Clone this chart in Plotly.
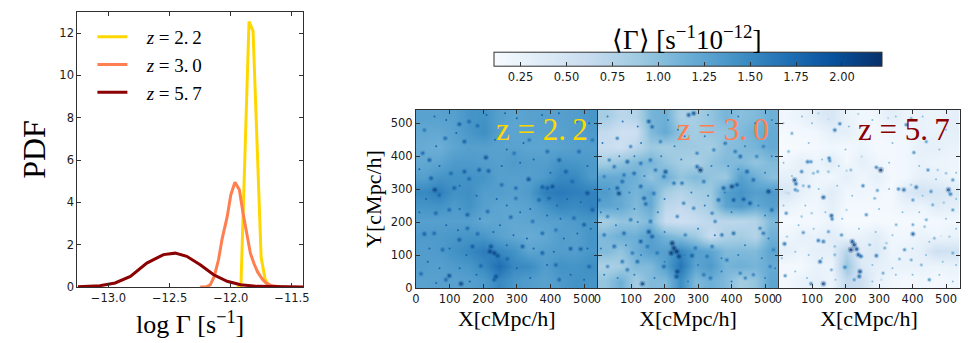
import plotly.graph_objects as go

W, H = 969, 343

# PDF curves
logg_22 = [-11.95, -11.917, -11.884, -11.851, -11.818, -11.785, -11.752, -11.719, -11.686, -11.65]
pdf_22 = [0, 0.05, 6.3, 12.55, 12.1, 6.8, 1.4, 0.35, 0.05, 0]
logg_30 = [-12.25, -12.2, -12.168, -12.135, -12.10, -12.07, -12.03, -12.0, -11.966, -11.93, -11.90, -11.87, -11.84, -11.81, -11.78, -11.74, -11.71, -11.67, -11.6]
pdf_30 = [0, 0.01, 0.1, 0.5, 1.3, 2.3, 3.3, 4.35, 4.95, 4.6, 3.5, 2.5, 1.6, 1.1, 0.7, 0.35, 0.18, 0.07, 0]
logg_57 = [-13.25, -13.07, -12.945, -12.82, -12.686, -12.55, -12.454, -12.36, -12.25, -12.14, -12.03, -11.92, -11.79, -11.6, -11.41]
pdf_57 = [0.01, 0.06, 0.19, 0.5, 1.13, 1.53, 1.6, 1.45, 1.05, 0.58, 0.27, 0.11, 0.03, 0, 0]

labels = ['<i>z</i> = 2.\u20092', '<i>z</i> = 3.\u20090', '<i>z</i> = 5.\u20097']
panel_labels = ['z = 2.\u20092', 'z = 3.\u20090', 'z = 5.\u20097']
colors = ['#FFD700', '#FF7F50', '#8B0000']

# coarse background of each map, top row first
cell_x = [22.5, 67.5, 112.5, 157.5, 202.5, 247.5, 292.5, 337.5, 382.5, 427.5, 472.5, 517.5]
cell_y = [517.5, 472.5, 427.5, 382.5, 337.5, 292.5, 247.5, 202.5, 157.5, 112.5, 67.5, 22.5]

field_22 = [
    [1.28, 1.28, 1.30, 1.40, 1.42, 1.30, 1.25, 1.28, 1.30, 1.30, 1.32, 1.38],
    [1.22, 1.22, 1.28, 1.38, 1.45, 1.30, 1.25, 1.28, 1.28, 1.28, 1.32, 1.35],
    [1.18, 1.15, 1.25, 1.30, 1.30, 1.28, 1.28, 1.25, 1.25, 1.28, 1.30, 1.32],
    [1.22, 1.25, 1.35, 1.35, 1.32, 1.30, 1.35, 1.32, 1.32, 1.40, 1.38, 1.35],
    [1.30, 1.40, 1.42, 1.42, 1.40, 1.30, 1.30, 1.30, 1.35, 1.50, 1.50, 1.35],
    [1.50, 1.58, 1.42, 1.45, 1.32, 1.32, 1.28, 1.35, 1.58, 1.62, 1.58, 1.55],
    [1.40, 1.42, 1.35, 1.42, 1.30, 1.25, 1.25, 1.28, 1.40, 1.52, 1.48, 1.55],
    [1.30, 1.30, 1.30, 1.30, 1.22, 1.25, 1.22, 1.25, 1.28, 1.30, 1.35, 1.38],
    [1.35, 1.35, 1.38, 1.40, 1.38, 1.28, 1.22, 1.18, 1.22, 1.32, 1.30, 1.40],
    [1.32, 1.35, 1.42, 1.50, 1.60, 1.50, 1.42, 1.25, 1.30, 1.32, 1.32, 1.38],
    [1.32, 1.30, 1.35, 1.38, 1.50, 1.72, 1.50, 1.48, 1.32, 1.42, 1.40, 1.45],
    [1.28, 1.30, 1.28, 1.30, 1.35, 1.50, 1.38, 1.32, 1.28, 1.35, 1.42, 1.40],
]
field_30 = [
    [0.85, 0.70, 0.75, 1.10, 1.15, 0.80, 0.85, 0.95, 1.10, 1.00, 1.05, 1.15],
    [0.65, 0.55, 0.55, 1.05, 1.20, 0.95, 0.85, 0.95, 0.95, 1.05, 1.15, 1.20],
    [0.60, 0.55, 0.70, 0.90, 0.85, 0.90, 0.90, 0.85, 1.00, 1.05, 1.10, 1.20],
    [0.85, 0.95, 1.05, 1.10, 0.95, 0.85, 0.80, 0.95, 1.05, 1.05, 0.95, 1.05],
    [1.20, 1.20, 1.15, 0.95, 1.15, 0.95, 1.05, 0.95, 0.90, 1.30, 1.15, 1.00],
    [1.35, 1.20, 1.10, 1.20, 0.85, 0.75, 0.85, 0.90, 1.30, 1.40, 1.30, 1.35],
    [1.25, 1.20, 1.05, 1.20, 0.70, 0.65, 0.75, 0.85, 1.25, 1.35, 1.20, 1.30],
    [0.85, 0.95, 0.95, 1.05, 0.60, 0.55, 0.60, 0.70, 0.70, 0.70, 0.75, 1.05],
    [1.05, 1.15, 1.15, 1.30, 1.10, 1.00, 0.90, 0.60, 0.80, 0.85, 0.75, 1.15],
    [1.05, 0.95, 1.15, 1.30, 1.30, 1.50, 1.30, 1.25, 1.05, 1.05, 1.05, 1.25],
    [0.80, 0.85, 1.05, 1.05, 1.30, 1.65, 1.25, 1.35, 1.10, 1.15, 1.10, 1.20],
    [0.95, 1.15, 0.85, 1.05, 1.05, 1.45, 1.05, 1.15, 1.05, 0.85, 0.95, 1.25],
]
field_57 = [
    [0.18, 0.25, 0.35, 0.45, 0.25, 0.18, 0.20, 0.32, 0.22, 0.25, 0.22, 0.30],
    [0.15, 0.15, 0.18, 0.30, 0.30, 0.18, 0.15, 0.20, 0.18, 0.25, 0.25, 0.30],
    [0.12, 0.13, 0.15, 0.18, 0.15, 0.22, 0.15, 0.15, 0.18, 0.28, 0.30, 0.25],
    [0.18, 0.30, 0.22, 0.35, 0.15, 0.30, 0.20, 0.16, 0.18, 0.25, 0.22, 0.20],
    [0.30, 0.30, 0.20, 0.18, 0.30, 0.18, 0.30, 0.15, 0.18, 0.30, 0.28, 0.20],
    [0.45, 0.28, 0.20, 0.35, 0.18, 0.20, 0.18, 0.15, 0.40, 0.50, 0.45, 0.40],
    [0.25, 0.18, 0.18, 0.30, 0.15, 0.15, 0.15, 0.16, 0.25, 0.22, 0.35, 0.30],
    [0.12, 0.15, 0.15, 0.22, 0.12, 0.12, 0.14, 0.13, 0.13, 0.14, 0.15, 0.18],
    [0.18, 0.28, 0.25, 0.35, 0.22, 0.25, 0.35, 0.18, 0.18, 0.25, 0.20, 0.25],
    [0.30, 0.22, 0.30, 0.30, 0.75, 0.35, 0.40, 0.20, 0.25, 0.30, 0.55, 0.50],
    [0.15, 0.15, 0.25, 0.22, 0.95, 0.40, 0.30, 0.25, 0.25, 0.25, 0.22, 0.25],
    [0.15, 0.25, 0.30, 0.22, 0.65, 0.55, 0.25, 0.18, 0.15, 0.18, 0.15, 0.18],
]

# bright knots in each map, in cMpc/h
knot_x_22 = [129, 183, 158, 40, 20, 144, 87, 208, 144, 216, 188, 158, 335, 255, 297, 56, 114, 69, 45, 104, 376, 406, 391, 510, 426, 446, 465, 59, 99, 153, 282, 525, 470, 500, 25, 54, 129, 153, 183, 223, 233, 220, 243, 317, 376, 416, 460, 490, 272, 15, 99, 134, 238, 233, 89, 193, 376, 515, 426, 337, 391, 292, 25, 485, 525, 396, 366, 297, 213, 347, 416, 79, 168]
knot_y_22 = [497, 492, 505, 388, 409, 444, 454, 396, 353, 355, 358, 331, 330, 313, 303, 298, 303, 282, 333, 348, 306, 308, 303, 288, 388, 353, 323, 227, 237, 222, 215, 237, 212, 192, 164, 166, 146, 181, 164, 126, 106, 111, 98, 126, 106, 70, 119, 118, 88, 43, 37, 13, 35, 25, 25, 67, 166, 65, 25, 449, 414, 409, 479, 414, 449, 272, 267, 272, 232, 202, 176, 116, 126]
knot_v_22 = [1.9, 1.8, 1.8, 1.9, 1.8, 1.9, 1.8, 2.0, 1.9, 1.9, 1.9, 1.8, 2.0, 1.8, 1.8, 2.1, 1.9, 1.8, 1.9, 1.8, 1.9, 2.0, 1.9, 2.0, 1.9, 1.9, 1.8, 1.8, 1.8, 1.9, 1.8, 1.9, 1.8, 1.9, 1.9, 1.8, 1.9, 1.8, 1.8, 2.0, 2.1, 2.1, 2.0, 1.9, 1.9, 1.8, 1.9, 1.9, 1.8, 1.8, 2.0, 2.1, 2.0, 1.9, 1.8, 1.8, 1.8, 1.8, 1.8, 1.7, 1.8, 1.7, 1.7, 1.8, 1.7, 1.8, 1.8, 1.7, 1.8, 1.7, 1.7, 1.8, 1.9]

knot_x_30 = [153, 163, 287, 272, 99, 59, 89, 129, 50, 203, 307, 297, 79, 109, 158, 64, 59, 74, 20, 129, 139, 168, 228, 252, 317, 401, 376, 416, 510, 446, 465, 426, 411, 406, 436, 361, 144, 99, 158, 79, 153, 163, 129, 20, 50, 223, 228, 220, 236, 243, 282, 327, 342, 386, 371, 406, 485, 495, 238, 236, 134, 89, 119, 198, 317, 337, 426, 515, 525, 455, 520, 342, 287, 257, 351, 5, 30, 441, 465, 347, 381, 495, 188, 297, 35, 173, 198, 238, 262, 292, 178, 104, 149, 74, 30, 475]
knot_y_30 = [505, 489, 530, 525, 429, 454, 383, 378, 368, 353, 358, 368, 343, 348, 388, 287, 303, 323, 338, 308, 272, 287, 318, 318, 323, 308, 303, 313, 293, 353, 328, 399, 414, 267, 269, 267, 255, 207, 202, 166, 171, 156, 141, 161, 126, 136, 121, 106, 111, 96, 98, 96, 126, 85, 161, 166, 181, 166, 50, 35, 13, 55, 80, 65, 40, 30, 45, 65, 116, 257, 237, 227, 242, 257, 202, 267, 217, 30, 40, 419, 439, 429, 444, 409, 388, 358, 338, 217, 161, 121, 106, 106, 126, 80, 65, 399]
knot_v_30 = [1.9, 1.8, 2.0, 1.9, 1.6, 1.6, 1.9, 1.7, 1.7, 2.0, 2.2, 1.8, 1.7, 1.8, 1.7, 2.1, 1.9, 1.8, 1.6, 1.8, 1.9, 1.7, 1.7, 1.7, 1.7, 2.1, 1.9, 1.9, 2.1, 1.9, 1.8, 1.8, 1.7, 1.9, 1.9, 1.8, 1.8, 1.7, 1.7, 1.8, 2.0, 1.9, 1.9, 1.7, 1.8, 2.2, 2.2, 2.2, 2.2, 2.1, 1.9, 1.7, 1.7, 1.7, 1.7, 1.8, 1.6, 1.7, 2.1, 2.0, 2.1, 1.7, 1.8, 1.8, 1.7, 1.7, 1.6, 1.6, 1.6, 1.9, 1.8, 1.6, 1.6, 1.6, 1.6, 1.7, 1.6, 1.6, 1.6, 1.6, 1.7, 1.6, 1.6, 1.6, 1.6, 1.7, 1.7, 1.6, 1.6, 1.7, 1.7, 1.7, 1.7, 1.7, 1.6, 1.6]

knot_x_57 = [87, 97, 151, 153, 48, 52, 30, 22, 91, 74, 134, 104, 203, 216, 292, 305, 248, 252, 295, 358, 374, 411, 396, 455, 507, 513, 446, 404, 441, 168, 183, 119, 149, 40, 30, 158, 160, 74, 149, 119, 134, 18, 25, 220, 226, 216, 233, 238, 246, 272, 317, 322, 401, 485, 376, 361, 292, 124, 198, 243, 241, 210, 226, 134, 97, 20, 158, 312, 307, 426, 450, 460, 441, 401, 262, 287, 493, 520, 351, 401, 436, 168, 188, 168, 50, 57, 23, 69, 117, 149, 238, 327, 396, 381, 500, 520, 475, 69, 99, 203, 465, 510, 396, 520]
knot_y_57 = [383, 383, 394, 386, 328, 316, 287, 290, 308, 310, 275, 348, 356, 358, 366, 358, 399, 310, 296, 300, 298, 306, 313, 293, 298, 285, 358, 411, 444, 479, 498, 530, 512, 469, 414, 219, 209, 168, 171, 144, 141, 134, 156, 141, 131, 116, 118, 101, 96, 131, 121, 136, 164, 158, 116, 88, 98, 80, 63, 50, 35, 45, 25, 13, 13, 37, 55, 45, 25, 70, 25, 252, 207, 267, 222, 272, 259, 237, 192, 192, 186, 126, 161, 101, 298, 295, 227, 353, 353, 353, 528, 515, 515, 495, 348, 328, 358, 217, 227, 237, 151, 156, 85, 106]
knot_v_57 = [1.7, 1.5, 1.6, 1.5, 2.0, 1.8, 0.8, 0.7, 1.4, 1.2, 1.9, 1.2, 0.9, 1.2, 1.6, 2.2, 0.8, 1.6, 1.4, 1.6, 1.8, 1.7, 1.0, 1.5, 2.0, 1.7, 1.5, 1.5, 1.4, 1.7, 1.6, 0.9, 0.7, 1.3, 1.2, 1.9, 1.6, 1.5, 1.4, 1.7, 1.7, 1.8, 1.0, 2.0, 2.1, 2.2, 2.0, 1.9, 1.8, 1.2, 1.3, 1.0, 1.9, 0.6, 1.5, 1.2, 1.7, 1.8, 1.6, 2.0, 1.8, 0.8, 1.4, 2.1, 1.6, 1.5, 1.3, 1.3, 0.8, 1.2, 1.5, 1.3, 1.3, 1.4, 1.5, 1.2, 1.0, 1.4, 1.2, 1.3, 1.1, 1.1, 1.5, 1.2, 1.5, 1.3, 1.5, 1.6, 1.3, 1.1, 0.9, 0.8, 1.2, 1.6, 1.1, 1.5, 1.0, 1.0, 1.0, 0.9, 1.2, 1.0, 1.3, 1.3]

# fainter specks, one level per map
faint_x_22 = [55, 90, 210, 265, 300, 375, 425, 480, 515, 60, 120, 235, 270, 320, 70, 10, 255, 310, 350, 400, 510, 130, 30, 180, 240, 270, 340, 420, 450, 490, 10, 130, 190, 250, 310, 390, 430, 520, 90, 125, 230, 290, 330, 440, 480, 40, 100, 150, 270, 350, 410, 510, 35, 70, 130, 180, 300, 340, 390, 460, 500, 160, 60]
faint_y_22 = [520, 510, 525, 530, 515, 525, 530, 505, 500, 430, 470, 450, 420, 440, 370, 360, 370, 380, 390, 350, 370, 310, 270, 280, 270, 250, 240, 250, 270, 260, 230, 240, 210, 190, 230, 220, 210, 180, 190, 175, 170, 160, 150, 150, 165, 120, 120, 100, 130, 120, 110, 120, 80, 60, 60, 40, 60, 30, 70, 40, 25, 20, 15]
faint_x_30 = [30, 75, 120, 210, 240, 330, 420, 470, 520, 130, 230, 260, 320, 440, 520, 15, 65, 110, 190, 250, 340, 390, 420, 500, 140, 35, 95, 200, 280, 330, 380, 480, 10, 60, 110, 180, 320, 400, 500, 55, 120, 200, 300, 350, 440, 510, 10, 85, 130, 200, 260, 300, 370, 420, 490, 20, 60, 110, 170, 270, 370, 400, 500, 530]
faint_y_30 = [520, 505, 490, 510, 480, 525, 520, 500, 510, 440, 430, 460, 460, 430, 400, 440, 400, 400, 400, 390, 370, 370, 360, 350, 340, 300, 290, 270, 290, 280, 290, 250, 230, 240, 240, 230, 250, 230, 220, 190, 200, 170, 180, 160, 130, 150, 120, 130, 100, 80, 100, 70, 90, 100, 90, 40, 30, 40, 30, 20, 50, 20, 30, 60]
faint_x_57 = [15, 70, 100, 210, 280, 350, 430, 500, 90, 200, 260, 340, 480, 15, 40, 130, 180, 330, 420, 470, 530, 120, 175, 220, 330, 430, 530, 15, 80, 140, 190, 300, 370, 420, 500, 60, 105, 240, 290, 340, 450, 530, 10, 50, 90, 130, 280, 340, 400, 440, 490, 530, 50, 85, 170, 280, 350, 480, 520, 400]
faint_y_57 = [500, 520, 500, 490, 510, 520, 520, 480, 440, 420, 450, 440, 420, 380, 340, 390, 370, 380, 370, 330, 350, 300, 310, 280, 300, 280, 270, 250, 250, 230, 210, 240, 230, 230, 210, 190, 180, 180, 170, 160, 140, 180, 90, 110, 100, 90, 70, 60, 120, 100, 80, 70, 50, 30, 25, 20, 40, 40, 20, 40]
faint_levels = [1.8, 1.6, 1.0]

fields = [field_22, field_30, field_57]
knots = [(knot_x_22, knot_y_22, knot_v_22), (knot_x_30, knot_y_30, knot_v_30), (knot_x_57, knot_y_57, knot_v_57)]
faints = [(faint_x_22, faint_y_22), (faint_x_30, faint_y_30), (faint_x_57, faint_y_57)]

map_ticks = [0, 100, 200, 300, 400, 500]
cbar_ticks = [0.25, 0.50, 0.75, 1.00, 1.25, 1.50, 1.75, 2.00]
pdf_ticks = [0, 2, 4, 6, 8, 10, 12]
logg_ticks = [-13.0, -12.5, -12.0, -11.5]

SERIF = 'Liberation Serif'
TICK = dict(family='DejaVu Sans', size=11.5, color='#1a1a1a')
AXIS = dict(showgrid=False, zeroline=False, showline=True, linecolor='#303030', linewidth=1, mirror='allticks', automargin=False,
            ticks='inside', ticklen=4, tickcolor='#303030', tickwidth=1, tickfont=TICK)


def xdom(a, b):
    return [a / W, b / W]


def ydom(top, bottom):
    return [1 - bottom / H, 1 - top / H]


fig = go.Figure()

# left panel
for x, y, name, c in zip([logg_22, logg_30, logg_57], [pdf_22, pdf_30, pdf_57], labels, colors):
    fig.add_trace(go.Scatter(x=x, y=y, mode='lines', name='\u00a0\u00a0\u00a0' + name, line=dict(color=c, width=3), xaxis='x', yaxis='y'))

# maps
for i in range(3):
    ax, ay = 'x%d' % (i + 2), 'y%d' % (i + 2)
    fig.add_trace(go.Heatmap(x=cell_x, y=cell_y, z=fields[i], zsmooth='best', coloraxis='coloraxis', xaxis=ax, yaxis=ay, hoverinfo='skip'))
    fx, fy = faints[i]
    fig.add_trace(go.Scatter(x=fx, y=fy, mode='markers', showlegend=False, hoverinfo='skip', xaxis=ax, yaxis=ay,
                             marker=dict(color=[faint_levels[i]] * len(fx), coloraxis='coloraxis', size=2, line=dict(width=0))))
    kx, ky, kv = knots[i]
    # soft halo, then the knot itself
    fig.add_trace(go.Scatter(x=kx, y=ky, mode='markers', showlegend=False, hoverinfo='skip', xaxis=ax, yaxis=ay,
                             marker=dict(color=kv, coloraxis='coloraxis', size=[1 + 2.4 * v for v in kv], opacity=0.28, line=dict(width=0))))
    fig.add_trace(go.Scatter(x=kx, y=ky, mode='markers', showlegend=False, hoverinfo='skip', xaxis=ax, yaxis=ay,
                             marker=dict(color=kv, coloraxis='coloraxis', size=[0.8 + 1.1 * v for v in kv], line=dict(width=0))))

fig.update_layout(
    width=W, height=H, autosize=False,
    margin=dict(l=0, r=0, t=0, b=0),
    paper_bgcolor='white', plot_bgcolor='white',
    font=dict(family=SERIF, color='black'),
    legend=dict(x=92.4 / W, y=1 - 18 / H, yanchor='top', bgcolor='rgba(0,0,0,0)', itemwidth=30,
                font=dict(family=SERIF, size=19, color='black'), itemclick=False),
    coloraxis=dict(
        colorscale='Blues', cmin=0.105, cmax=2.218,
        colorbar=dict(
            orientation='h', x=688 / W, xanchor='center', y=1 - 89 / H, yanchor='bottom',
            len=388, lenmode='pixels', thickness=14, thicknessmode='pixels', xpad=0, ypad=0,
            outlinecolor='#303030', outlinewidth=1,
            ticks='inside', ticklen=4, tickcolor='#303030', tickvals=cbar_ticks, tickformat='.2f', tickfont=TICK,
        ),
    ),
    xaxis=dict(AXIS, domain=xdom(77.3, 303), range=[-13.254, -11.41], tickvals=logg_ticks, tickformat='.1f',
               title=dict(text='log \u0393 [s<sup>\u22121</sup>]', font=dict(family=SERIF, size=26), standoff=11)),
    yaxis=dict(AXIS, domain=ydom(12, 287), range=[0, 13], tickvals=pdf_ticks,
               title=dict(text='PDF', font=dict(family=SERIF, size=32), standoff=4)),
)

# colourbar title as an annotation, the colorbar's own one sits too high
fig.add_annotation(text='\u27e8\u0393\u27e9 [s<sup>\u22121</sup>10<sup>\u221212</sup>]', xref='paper', yref='paper',
                   x=687 / W, y=1 - 38 / H, xanchor='center', yanchor='middle', showarrow=False,
                   font=dict(family=SERIF, size=27, color='black'))

map_edges = [(416, 597.5), (597.5, 778.5), (778.5, 959.5)]
for i, (a, b) in enumerate(map_edges):
    n = i + 2
    fig.layout['xaxis%d' % n] = dict(AXIS, domain=xdom(a, b), range=[0, 540], tickvals=map_ticks, anchor='y%d' % n,
                                     title=dict(text='X[cMpc/h]', font=dict(family=SERIF, size=22), standoff=3))
    fig.layout['yaxis%d' % n] = dict(AXIS, domain=ydom(110, 288), range=[0, 540], tickvals=map_ticks, anchor='x%d' % n,
                                     showticklabels=(i == 0))
    fig.add_annotation(text=panel_labels[i], xref='x%d' % n, yref='y%d' % n, x=518, y=480, xanchor='right', yanchor='middle',
                       showarrow=False, font=dict(family=SERIF, size=31, color=colors[i]))
fig.layout['yaxis2'].title = dict(text='Y[cMpc/h]', font=dict(family=SERIF, size=22), standoff=3)

fig.write_html("out.html", config=dict(displayModeBar=False), post_script="document.body.style.margin='0';")
